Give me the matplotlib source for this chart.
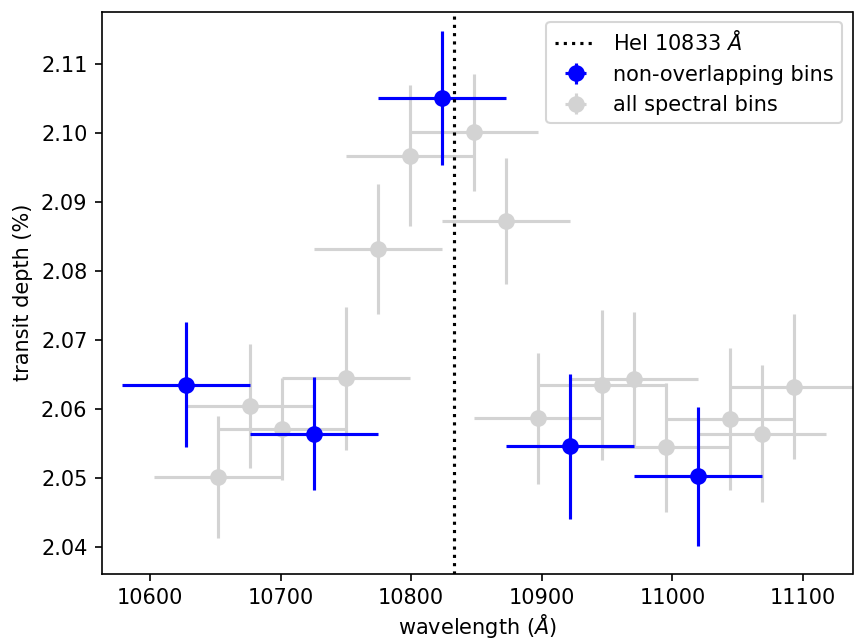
import matplotlib
matplotlib.use('Agg')
import matplotlib.pyplot as plt

# ==================== data ====================
he_line = 10833
bin_half = 49.0

blue_wl = [10627.5, 10725.5, 10823.5, 10921.5, 11019.5]
blue_depth = [2.0635, 2.0564, 2.1051, 2.0546, 2.0502]
blue_err = [0.0091, 0.0082, 0.0097, 0.0105, 0.0101]

grey_wl = [10652.0, 10676.5, 10701.0, 10750.0, 10774.5, 10799.0, 10848.0, 10872.5,
           10897.0, 10946.0, 10970.5, 10995.0, 11044.0, 11068.5, 11093.0]
grey_depth = [2.0501, 2.0604, 2.0571, 2.0644, 2.0832, 2.0967, 2.1001, 2.0872,
              2.0586, 2.0635, 2.0643, 2.0544, 2.0585, 2.0564, 2.0632]
grey_err = [0.0088, 0.0090, 0.0074, 0.0103, 0.0094, 0.0102, 0.0085, 0.0091,
            0.0095, 0.0109, 0.0098, 0.0093, 0.0103, 0.0099, 0.0105]

# ==================== plot ====================
fig = plt.figure(figsize=(854 / 150, 642 / 150), dpi=150)
ax = fig.add_axes([102 / 854, 68.3 / 642, 750.5 / 854, 562.2 / 642])

ax.axvline(he_line, color='k', ls=':', lw=1.5, zorder=4, label=r'HeI 10833 $\AA$')
ax.errorbar(blue_wl, blue_depth, yerr=blue_err, xerr=bin_half, fmt='o', color='blue',
            ms=7, lw=1.5, zorder=3, label='non-overlapping bins')
ax.errorbar(grey_wl, grey_depth, yerr=grey_err, xerr=bin_half, fmt='o', color='lightgrey',
            ms=7, lw=1.5, zorder=2, label='all spectral bins')

ax.set_xlim(10563.2, 11137.9)
ax.set_ylim(2.0361, 2.1176)
ax.set_xlabel(r'wavelength ($\AA$)', labelpad=2)
ax.set_ylabel('transit depth (%)')
ax.legend(loc='upper right')

fig.savefig('out.png', dpi=150)
